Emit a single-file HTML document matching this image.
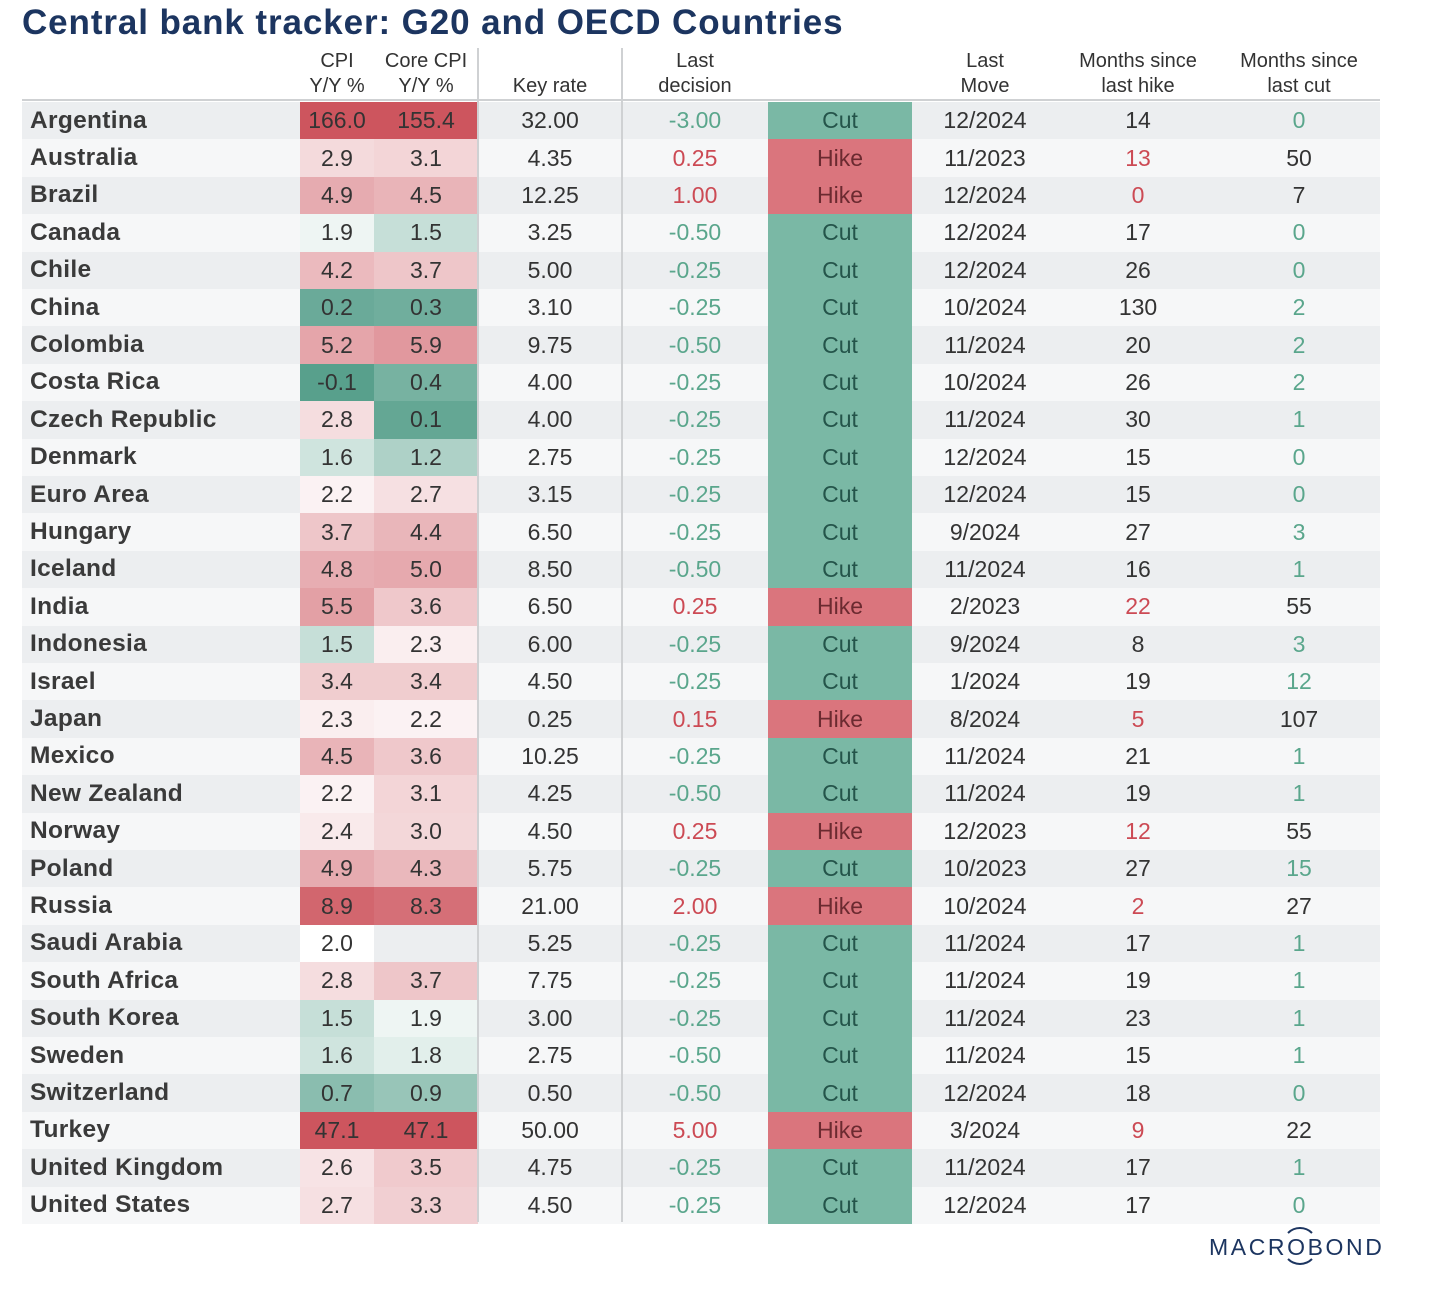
<!DOCTYPE html>
<html><head><meta charset="utf-8"><style>
body{margin:0;background:#fff;width:1430px;height:1290px;overflow:hidden;font-family:"Liberation Sans",sans-serif;position:relative}
.t{position:absolute;left:22px;top:3px;font-size:35px;color:#1c3560;font-weight:bold;letter-spacing:0.9px}
.h{position:absolute;text-align:center;font-size:20px;color:#333;line-height:25px}
.row{position:absolute;left:22px;width:1358px;height:37.4px}
.c{position:absolute;top:0;height:100%;display:flex;align-items:center;justify-content:center;font-size:23px;color:#333}
.name{justify-content:flex-start;padding-left:8px;font-weight:bold;color:#3a3a3a;font-size:24.5px;letter-spacing:0.3px}
.vl{position:absolute;width:2px;background:#cfd1d3;top:48px;height:1174px}
</style></head><body>
<div class="t">Central bank tracker: G20 and OECD Countries</div>
<div class="h" style="left:300px;width:74px;top:49px">CPI<br>Y/Y %</div>
<div class="h" style="left:374px;width:104px;top:49px">Core CPI<br>Y/Y %</div>
<div class="h" style="left:478px;width:144px;top:74px">Key rate</div>
<div class="h" style="left:622px;width:146px;top:49px">Last<br>decision</div>
<div class="h" style="left:912px;width:146px;top:49px">Last<br>Move</div>
<div class="h" style="left:1058px;width:160px;top:49px">Months since<br>last hike</div>
<div class="h" style="left:1218px;width:162px;top:49px">Months since<br>last cut</div>
<div style="position:absolute;left:22px;top:99px;width:1358px;height:2px;background:#cfd1d3"></div>
<div id="tbl"></div>
<div class="vl" style="left:477px"></div>
<div class="vl" style="left:621px"></div>
<div style="position:absolute;left:1208px;top:1226px;width:174px;height:40px">
<svg width="174" height="40" style="position:absolute;left:0;top:0"><path d="M80 7 A17 17 0 0 1 104 7" stroke="#1c3560" stroke-width="2" fill="none"/><path d="M80 33 A17 17 0 0 0 104 33" stroke="#1c3560" stroke-width="2" fill="none"/></svg>
<div style="position:absolute;left:1px;top:8px;font-size:23px;color:#1c3560;letter-spacing:2.6px">MACROBOND</div></div>
<script>
const countries=["Argentina","Australia","Brazil","Canada","Chile","China","Colombia","Costa Rica","Czech Republic","Denmark","Euro Area","Hungary","Iceland","India","Indonesia","Israel","Japan","Mexico","New Zealand","Norway","Poland","Russia","Saudi Arabia","South Africa","South Korea","Sweden","Switzerland","Turkey","United Kingdom","United States"];
const cpi=[166.0,2.9,4.9,1.9,4.2,0.2,5.2,-0.1,2.8,1.6,2.2,3.7,4.8,5.5,1.5,3.4,2.3,4.5,2.2,2.4,4.9,8.9,2.0,2.8,1.5,1.6,0.7,47.1,2.6,2.7];
const core=[155.4,3.1,4.5,1.5,3.7,0.3,5.9,0.4,0.1,1.2,2.7,4.4,5.0,3.6,2.3,3.4,2.2,3.6,3.1,3.0,4.3,8.3,null,3.7,1.9,1.8,0.9,47.1,3.5,3.3];
const keyRate=["32.00","4.35","12.25","3.25","5.00","3.10","9.75","4.00","4.00","2.75","3.15","6.50","8.50","6.50","6.00","4.50","0.25","10.25","4.25","4.50","5.75","21.00","5.25","7.75","3.00","2.75","0.50","50.00","4.75","4.50"];
const lastDecision=[-3.00,0.25,1.00,-0.50,-0.25,-0.25,-0.50,-0.25,-0.25,-0.25,-0.25,-0.25,-0.50,0.25,-0.25,-0.25,0.15,-0.25,-0.50,0.25,-0.25,2.00,-0.25,-0.25,-0.25,-0.50,-0.50,5.00,-0.25,-0.25];
const lastMove=["12/2024","11/2023","12/2024","12/2024","12/2024","10/2024","11/2024","10/2024","11/2024","12/2024","12/2024","9/2024","11/2024","2/2023","9/2024","1/2024","8/2024","11/2024","11/2024","12/2023","10/2023","10/2024","11/2024","11/2024","11/2024","11/2024","12/2024","3/2024","11/2024","12/2024"];
const sinceHike=[14,13,0,17,26,130,20,26,30,15,15,27,16,22,8,19,5,21,19,12,27,2,17,19,23,15,18,9,17,17];
const sinceCut=[0,50,7,0,0,2,2,2,1,0,0,3,1,55,3,12,107,1,1,55,15,27,1,1,1,1,0,22,1,0];
function heat(v){
 if(v===null) return "transparent";
 const W=[255,255,255],R=[205,85,94],G=[88,160,140];
 let t,c;
 if(v>=2){t=Math.min(1,(v-2)/8);t=Math.pow(t,0.7);c=R;}
 else{t=Math.min(1,(2-v)/2.1);t=Math.pow(t,0.75);c=G;}
 const m=W.map((w,i)=>Math.round(w+(c[i]-w)*t));
 return `rgb(${m[0]},${m[1]},${m[2]})`;
}
const tbl=document.getElementById('tbl');
const rowH=37.4,top0=102;
function cell(row,left,w,txt,style,name){
 const d=document.createElement('div');d.className='c';
 d.style.left=left+'px';d.style.width=w+'px';
 if(style) d.style.cssText+=style;
 d.textContent=txt;
 
 
 row.appendChild(d);return d;
}
countries.forEach((n,i)=>{
 const r=document.createElement('div');r.className='row';
 r.style.top=(top0+i*rowH)+'px';
 r.style.background=i%2===0?'#eceef0':'#f6f7f8';
 
 
 const nm=cell(r,0,278,n,'','country-name');nm.classList.add('name');
 cell(r,278,74,cpi[i].toFixed(1),'background:'+heat(cpi[i]),'cpi-cell');
 cell(r,352,104,core[i]===null?'':core[i].toFixed(1),'background:'+heat(core[i]),'core-cpi-cell');
 cell(r,456,144,keyRate[i],'','key-rate-cell');
 const hike=lastDecision[i]>0;
 cell(r,600,146,lastDecision[i].toFixed(2),'color:'+(hike?'#cc4a54':'#5aa68c'),'last-decision-cell');
 cell(r,746,144,hike?'Hike':'Cut',hike?'background:#da757d;color:#6b2a30':'background:#7ab8a5;color:#24544a','decision-badge');
 cell(r,890,146,lastMove[i],'','last-move-cell');
 cell(r,1036,160,String(sinceHike[i]),hike?'color:#cc4a54':'','months-since-hike-cell');
 cell(r,1196,162,String(sinceCut[i]),hike?'':'color:#5aa68c','months-since-cut-cell');
 tbl.appendChild(r);
});
</script>
</body></html>
